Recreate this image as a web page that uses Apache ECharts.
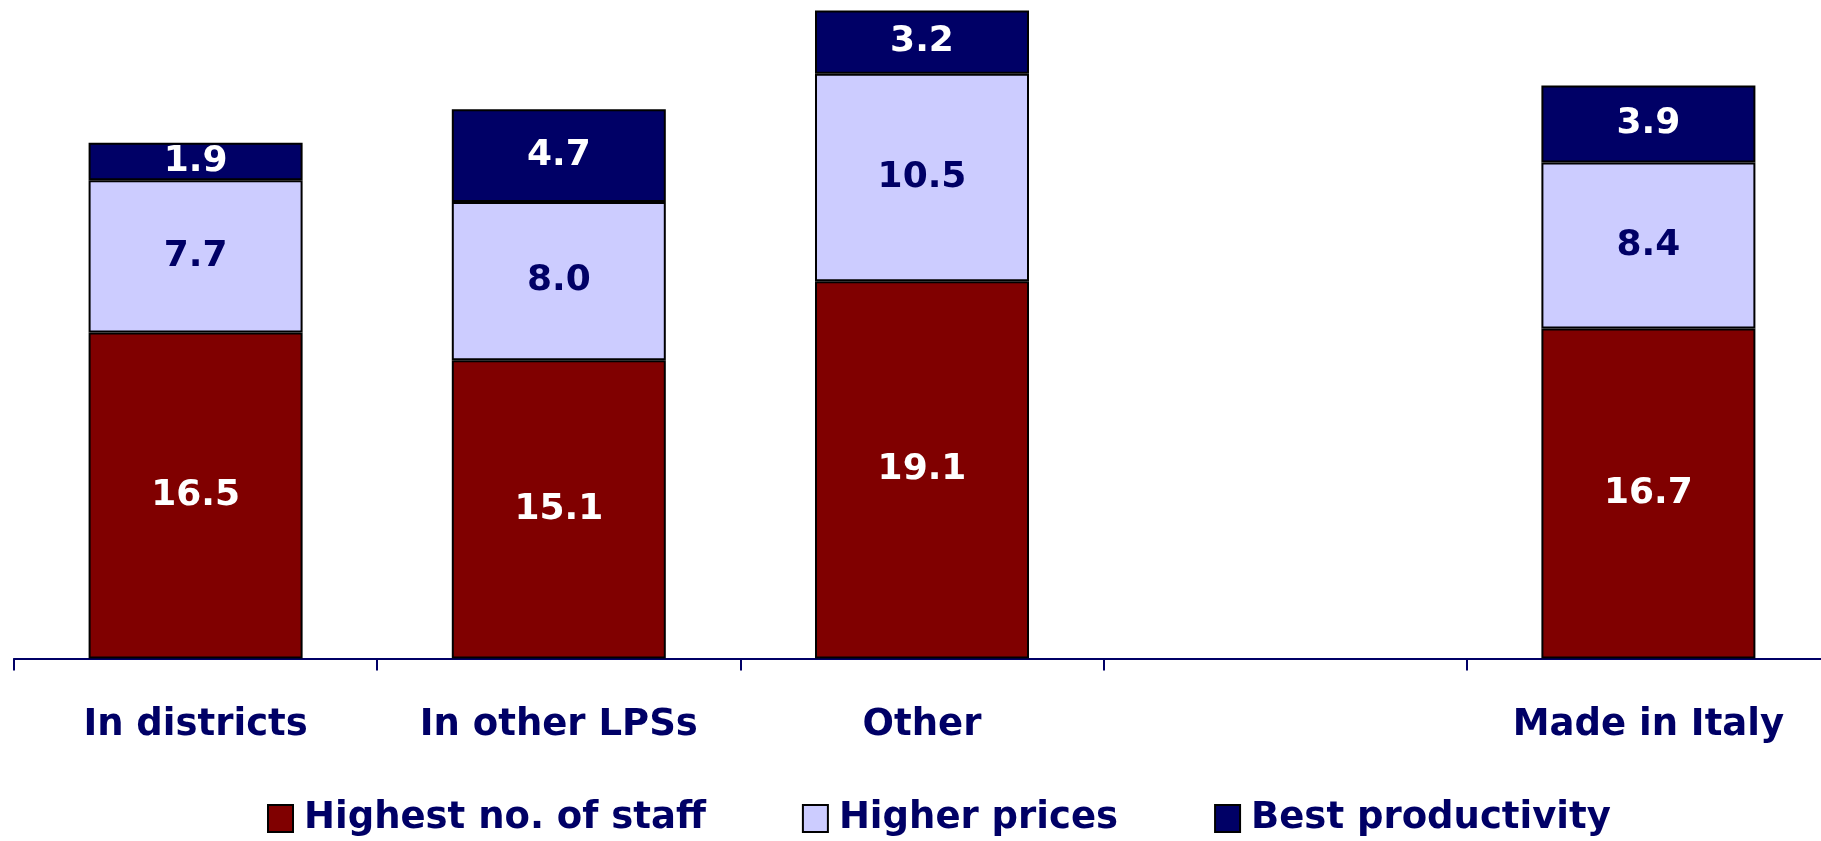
<!DOCTYPE html>
<html>
<head>
<meta charset="utf-8">
<script src="https://cdn.jsdelivr.net/npm/echarts@6/dist/echarts.min.js"></script>
<style>
html, body { margin: 0; padding: 0; background: #fff; }
#chart { width: 1821px; height: 841px; }
</style>
</head>
<body>
<div id="chart"></div>
<script>
var categories = ['In districts', 'In other LPSs', 'Other', '', 'Made in Italy'];
var staffValues = [16.5, 15.1, 19.1, '-', 16.7];
var pricesValues = [7.7, 8.0, 10.5, '-', 8.4];
var productivityValues = [1.9, 4.7, 3.2, '-', 3.9];
var seriesNames = ['Highest no. of staff', 'Higher prices', 'Best productivity'];

var fontName = '"DejaVu Sans", Verdana, sans-serif';

function chart(){
	var myChart = echarts.init(document.getElementById('chart'));

	function bar(name, values, color, labelColor){
		return {
			"name": name,
			"type": "bar",
			"stack": "total",
			"barWidth": 214,
			"data": values,
			"itemStyle": {
				"color": color,
				"borderColor": "#000",
				"borderWidth": 2
			},
			"label": {
				"show": true,
				"position": "inside",
				"color": labelColor,
				"fontFamily": fontName,
				"fontWeight": "bold",
				"fontSize": 36,
				formatter: function(p) {
					return typeof p.value === 'number' ? p.value.toFixed(1) : '';
				}
			}
		};
	}

	var option = {
		backgroundColor: "#fff",
		animation: false,
		"grid": {
			"left": 14,
			"right": -9,
			"top": 6.5,
			"bottom": 182.5,
			"outerBoundsMode": "none"
		},
		"legend": {
			"bottom": -1,
			"left": 262,
			"itemWidth": 25,
			"itemHeight": 27,
			"itemGap": 96,
			"icon": "rect",
			"itemStyle": {
				"borderColor": "#000",
				"borderWidth": 2
			},
			"textStyle": {
				"color": "#000066",
				"fontFamily": fontName,
				"fontWeight": "bold",
				"fontSize": 37,
				"padding": [0, 0, 0, 6]
			},
			"data": seriesNames
		},
		"xAxis": [{
			"type": "category",
			"data": categories,
			"axisLine": {
				lineStyle: {
					color: '#000066',
					width: 2
				}
			},
			"axisTick": {
				"show": true,
				"length": 12,
				lineStyle: {
					color: '#000066',
					width: 2
				}
			},
			"axisLabel": {
				"interval": 0,
				"margin": 48,
				"color": "#000066",
				"fontFamily": fontName,
				"fontWeight": "bold",
				"fontSize": 37
			}
		}],
		"yAxis": [{
			"type": "value",
			"min": 0,
			"max": 33,
			"show": false,
			"splitLine": { "show": false }
		}],
		"series": [
			bar(seriesNames[0], staffValues, "#800000", "#fff"),
			bar(seriesNames[1], pricesValues, "#CCCCFF", "#000066"),
			bar(seriesNames[2], productivityValues, "#000066", "#fff")
		]
	};

	myChart.setOption(option);
}
chart();
</script>
</body>
</html>
